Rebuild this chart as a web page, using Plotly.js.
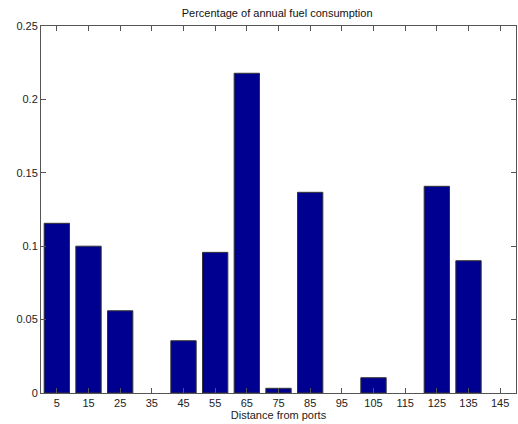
<!DOCTYPE html>
<html>
<head>
<meta charset="utf-8">
<script src="https://cdn.plot.ly/plotly-3.0.1.min.js"></script>
<style>
  html, body { margin: 0; padding: 0; background: #fff; }
  #chart { width: 518px; height: 424px; }
</style>
</head>
<body>
<div id="chart"></div>
<script>
// Distance bins (centre of each 10-unit band)
const distances = [5, 15, 25, 35, 45, 55, 65, 75, 85, 95, 105, 115, 125, 135, 145];
// Share of annual fuel consumption per distance band
const fuelShare = [0.1156, 0.1000, 0.0560, 0, 0.0356, 0.0958, 0.2178, 0.0032,
                   0.1367, 0, 0.0104, 0, 0.1408, 0.0901, 0];
const yTicks = [0, 0.05, 0.1, 0.15, 0.2, 0.25];
const yTickText = ['0', '0.05', '0.1', '0.15', '0.2', '0.25'];

const font = { family: 'Liberation Sans, Arial, sans-serif', size: 11, color: '#222' };

const trace = {
  type: 'bar',
  x: distances,
  y: fuelShare,
  width: 8,
  marker: {
    color: '#000090',
    // empty bands get no outline
    line: { color: '#333', width: fuelShare.map(v => (v > 0 ? 1 : 0)) }
  },
  hoverinfo: 'x+y'
};

const axisCommon = {
  showline: true,
  linecolor: '#555',
  linewidth: 1,
  mirror: 'ticks',
  ticks: 'inside',
  ticklen: 5,
  tickcolor: '#555',
  showgrid: false,
  zeroline: false,
  tickfont: font
};

const layout = {
  width: 518,
  height: 424,
  margin: { l: 41, r: 2, t: 26, b: 31 },
  paper_bgcolor: '#fff',
  plot_bgcolor: '#fff',
  showlegend: false,
  font: font,
  title: {
    text: 'Percentage of annual fuel consumption',
    font: { family: font.family, size: 11, color: '#111' },
    x: 0.535, xanchor: 'center',
    y: 0.968, yanchor: 'middle'
  },
  xaxis: Object.assign({}, axisCommon, {
    range: [0, 150],
    tickvals: distances,
    ticktext: distances.map(String),
    title: { text: 'Distance from ports', font: font, standoff: 2 }
  }),
  yaxis: Object.assign({}, axisCommon, {
    range: [0, 0.25],
    tickvals: yTicks,
    ticktext: yTickText
  })
};

Plotly.newPlot('chart', [trace], layout, { displayModeBar: false, staticPlot: true });
</script>
</body>
</html>
